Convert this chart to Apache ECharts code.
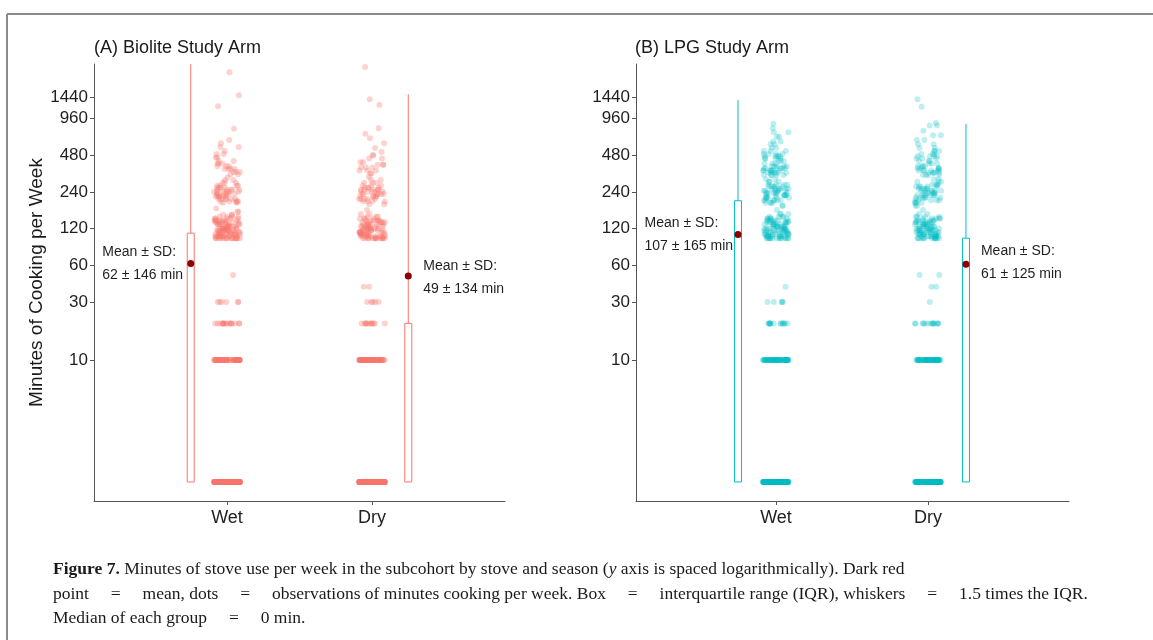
<!DOCTYPE html>
<html>
<head>
<meta charset="utf-8">
<script src="https://cdn.jsdelivr.net/npm/echarts@6/dist/echarts.min.js"></script>
<style>
  html, body { margin: 0; padding: 0; background: #fff; }
  #chart { width: 1153px; height: 640px; }
</style>
</head>
<body>
<div id="chart"></div>
<script>
// 分类与刻度
const seasons = ['Wet', 'Dry']
const panelTitles = ['(A) Biolite Study Arm', '(B) LPG Study Arm']
const yTicks = [10, 30, 60, 120, 240, 480, 960, 1440]

// 观测值: [minutes per week, number of observations]
// 0 min is drawn at 1 on the log axis, as in the original figure
const bioliteWet = [
  [0, 230], [10, 70], [20, 16], [30, 6], [50, 1],
  [100, 16], [104, 10], [108, 10], [112, 9], [116, 9], [120, 9], [125, 8], [130, 8],
  [135, 7], [140, 7], [145, 5], [150, 4], [156, 3], [165, 2], [175, 1],
  [195, 2], [200, 5], [210, 6], [220, 6], [230, 6], [240, 6], [250, 5], [260, 4],
  [270, 4], [285, 3], [300, 2], [315, 1],
  [335, 2], [350, 3], [370, 4], [390, 3], [410, 3], [430, 2], [460, 2], [490, 2],
  [520, 1], [560, 2], [600, 1], [640, 1],
  [790, 1], [1210, 1], [1490, 1], [2300, 1]
]
const bioliteDry = [
  [0, 260], [10, 75], [20, 12], [30, 5], [40, 2],
  [100, 14], [104, 9], [108, 9], [112, 8], [116, 8], [120, 8], [125, 7], [130, 7],
  [135, 6], [140, 6], [145, 4], [150, 3], [158, 2], [170, 1],
  [190, 2], [200, 4], [210, 5], [220, 5], [230, 6], [240, 5], [250, 5], [260, 4],
  [270, 3], [285, 3], [300, 2], [320, 1],
  [340, 2], [360, 3], [380, 3], [400, 3], [420, 2], [450, 2], [480, 2], [510, 1],
  [550, 1], [600, 1], [660, 1], [720, 1],
  [800, 1], [1240, 1], [1380, 1], [2540, 1]
]
const lpgWet = [
  [0, 210], [10, 62], [20, 14], [30, 5], [40, 1],
  [100, 14], [104, 9], [108, 9], [112, 8], [116, 8], [120, 8], [125, 8], [130, 7],
  [135, 7], [140, 7], [145, 5], [150, 4], [158, 3], [170, 1],
  [185, 2], [195, 4], [205, 6], [215, 6], [225, 7], [235, 7], [245, 6], [255, 6],
  [265, 5], [275, 4], [290, 3], [305, 2],
  [330, 5], [345, 6], [360, 7], [375, 6], [390, 5], [410, 3],
  [430, 3], [450, 4], [470, 5], [490, 4], [520, 3], [550, 2], [590, 2],
  [620, 2], [680, 2], [740, 2], [800, 1], [870, 1]
]
const lpgDry = [
  [0, 250], [10, 66], [20, 14], [30, 1], [40, 2], [50, 2],
  [100, 13], [104, 9], [108, 9], [112, 8], [116, 8], [120, 8], [125, 7], [130, 7],
  [135, 7], [140, 6], [145, 5], [150, 4], [158, 2], [170, 1],
  [185, 2], [195, 4], [205, 5], [215, 6], [225, 6], [235, 6], [245, 6], [255, 5],
  [265, 5], [275, 4], [290, 3], [305, 2],
  [330, 4], [345, 5], [360, 6], [375, 5], [390, 4], [410, 3],
  [430, 3], [450, 3], [470, 4], [490, 3], [520, 3], [550, 2], [590, 2],
  [640, 2], [700, 2], [760, 1], [840, 2], [880, 1], [1200, 1], [1380, 1]
]

// 箱线: [position, Q1, Q3, upper whisker end] (Q1 = median = 0 min)
const bioliteBoxes = [[0.75, 0, 110, 2680], [2.25, 0, 20, 1520]]
const lpgBoxes = [[0.75, 0, 203, 1360], [2.25, 0, 100, 865]]

// 均值 ± 标准差
const bioliteMeans = [62, 49]
const bioliteSds = [146, 134]
const lpgMeans = [107, 61]
const lpgSds = [165, 125]
const meanPos = [0.75, 2.25]

const EQ = ' \u2003=\u2003 '
const captionLines = [
  ['Figure 7.', ' Minutes of stove use per week in the subcohort by stove and season (', 'y', ' axis is spaced logarithmically). Dark red'],
  'point' + EQ + 'mean, dots' + EQ + 'observations of minutes cooking per week. Box' + EQ + 'interquartile range (IQR), whiskers' + EQ + '1.5 times the IQR.',
  'Median of each group' + EQ + '0 min.'
]

const FONT = '"Liberation Sans", Arial, sans-serif'
const SERIF = '"Liberation Serif", "Times New Roman", serif'
const RED = '#F8766D'
const CYAN = '#00BFC4'
const MEAN_COLOR = '#8B0000'
const Y_MIN = 0.698
const Y_MAX = 2687

const chart = echarts.init(document.getElementById('chart'))

const toPoints = (rows) => {
  const pts = []
  seasons.forEach((s, i) => {
    rows[i].forEach(([m, n]) => {
      for (let k = 0; k < n; k++) pts.push([s, m === 0 ? 1 : m])
    })
  })
  return pts
}

const logY = (gridIndex, show) => ({
  type: 'log',
  gridIndex,
  min: Y_MIN,
  max: Y_MAX,
  show,
  splitLine: { show: false },
  axisLine: { show: true, lineStyle: { color: '#555', width: 1 } },
  axisTick: { show: true, length: 4, customValues: yTicks, lineStyle: { color: '#555' } },
  axisLabel: {
    customValues: yTicks,
    formatter: (v) => String(Math.round(v)),
    fontFamily: FONT,
    fontSize: 17,
    color: '#1f1f1f',
    margin: 6
  }
})

const seasonX = (gridIndex, min, max) => ({
  type: 'value',
  gridIndex,
  min,
  max,
  splitLine: { show: false },
  axisLine: { show: true, onZero: false, lineStyle: { color: '#555', width: 1 } },
  axisTick: { show: true, length: 4, customValues: [1, 2], lineStyle: { color: '#555' } },
  axisLabel: {
    customValues: [1, 2],
    formatter: (v) => seasons[Math.round(v) - 1],
    fontFamily: FONT,
    fontSize: 18,
    color: '#1f1f1f',
    margin: 8
  }
})

const jitterX = (gridIndex) => ({
  type: 'category',
  gridIndex,
  data: seasons,
  show: false,
  jitter: 26,
  jitterOverlap: true
})

const boxSeries = (xi, yi, data, color) => ({
  type: 'custom',
  xAxisIndex: xi,
  yAxisIndex: yi,
  data: data.map(([x, q1, q3, hi]) => [x, q1 === 0 ? 1 : q1, q3, hi]),
  z: 2,
  renderItem: (params, api) => {
    const x = api.value(0)
    const bottom = api.coord([x, api.value(1)])
    const top = api.coord([x, api.value(2)])
    const end = api.coord([x, api.value(3)])
    const w = 7
    return {
      type: 'group',
      children: [
        { type: 'line', shape: { x1: top[0], y1: top[1], x2: end[0], y2: end[1] }, style: { stroke: color, lineWidth: 1 } },
        { type: 'rect', shape: { x: bottom[0] - w / 2, y: top[1], width: w, height: bottom[1] - top[1] }, style: { fill: '#fff', stroke: color, lineWidth: 1 } }
      ]
    }
  }
})

const meanLabel = (mean, sd) => 'Mean ± SD:\n' + mean + ' ± ' + sd + ' min'

// 标签偏移 (相对于均值点)
const labelOffsets = {
  biolite: [[-85, 3.5], [18.5, 5.5]],
  lpg: [[-90, 3.5], [18.5, 1.5]]
}

const meanSeries = (xi, yi, means, sds, offsets) => ({
  type: 'scatter',
  xAxisIndex: xi,
  yAxisIndex: yi,
  symbolSize: 7,
  z: 5,
  itemStyle: { color: MEAN_COLOR, opacity: 1 },
  data: means.map((m, i) => ({
    value: [meanPos[i], m],
    label: { show: true, position: offsets[i], align: 'left', verticalAlign: 'middle', formatter: meanLabel(m, sds[i]) }
  })),
  label: { fontFamily: FONT, fontSize: 14, lineHeight: 23, color: '#1f1f1f' }
})

const dotSeries = (xi, yi, rows, color, opacity) => ({
  type: 'scatter',
  xAxisIndex: xi,
  yAxisIndex: yi,
  symbolSize: 6,
  z: 3,
  itemStyle: { color, opacity },
  data: toPoints(rows)
})

const option = {
  animation: false,
  backgroundColor: '#fff',
  title: [
    { text: panelTitles[0], left: 94, top: 39, padding: 0, textStyle: { fontFamily: FONT, fontSize: 18, fontWeight: 'normal', color: '#1a1a1a' } },
    { text: panelTitles[1], left: 635, top: 39, padding: 0, textStyle: { fontFamily: FONT, fontSize: 18, fontWeight: 'normal', color: '#1a1a1a' } }
  ],
  grid: [
    { left: 94, top: 64, width: 411, height: 437 },
    { left: 154.5, top: 64, width: 290, height: 437 },
    { left: 636, top: 64, width: 433, height: 437 },
    { left: 700, top: 64, width: 304, height: 437 }
  ],
  xAxis: [
    seasonX(0, 0.083, 2.917),
    jitterX(1),
    seasonX(2, 0.079, 2.928),
    jitterX(3)
  ],
  yAxis: [
    Object.assign(logY(0, true), {
      name: 'Minutes of Cooking per Week',
      nameLocation: 'middle',
      nameGap: 30,
      nameTextStyle: { fontFamily: FONT, fontSize: 19, color: '#1a1a1a' }
    }),
    logY(1, false),
    logY(2, true),
    logY(3, false)
  ],
  series: [
    boxSeries(0, 0, bioliteBoxes, RED),
    dotSeries(1, 1, [bioliteWet, bioliteDry], RED, 0.32),
    meanSeries(0, 0, bioliteMeans, bioliteSds, labelOffsets.biolite),
    boxSeries(2, 2, lpgBoxes, CYAN),
    dotSeries(3, 3, [lpgWet, lpgDry], CYAN, 0.26),
    meanSeries(2, 2, lpgMeans, lpgSds, labelOffsets.lpg)
  ],
  graphic: [
    { type: 'line', shape: { x1: 7, y1: 14, x2: 1153, y2: 14 }, style: { stroke: '#8a8a8a', lineWidth: 2 } },
    { type: 'line', shape: { x1: 7, y1: 14, x2: 7, y2: 640 }, style: { stroke: '#8a8a8a', lineWidth: 2 } },
    {
      type: 'text', left: 53, top: 560,
      style: {
        text: '{b|' + captionLines[0][0] + '}{n|' + captionLines[0][1] + '}{i|' + captionLines[0][2] + '}{n|' + captionLines[0][3] + '}',
        rich: {
          b: { fontFamily: SERIF, fontSize: 17.5, fontWeight: 'bold', fill: '#1a1a1a' },
          n: { fontFamily: SERIF, fontSize: 17.5, fill: '#1a1a1a' },
          i: { fontFamily: SERIF, fontSize: 17.5, fontStyle: 'italic', fill: '#1a1a1a' }
        }
      }
    },
    { type: 'text', left: 53, top: 585, style: { text: captionLines[1], fontFamily: SERIF, fontSize: 17.5, fill: '#1a1a1a' } },
    { type: 'text', left: 53, top: 609, style: { text: captionLines[2], fontFamily: SERIF, fontSize: 17.5, fill: '#1a1a1a' } }
  ]
}

chart.setOption(option)
</script>
</body>
</html>
